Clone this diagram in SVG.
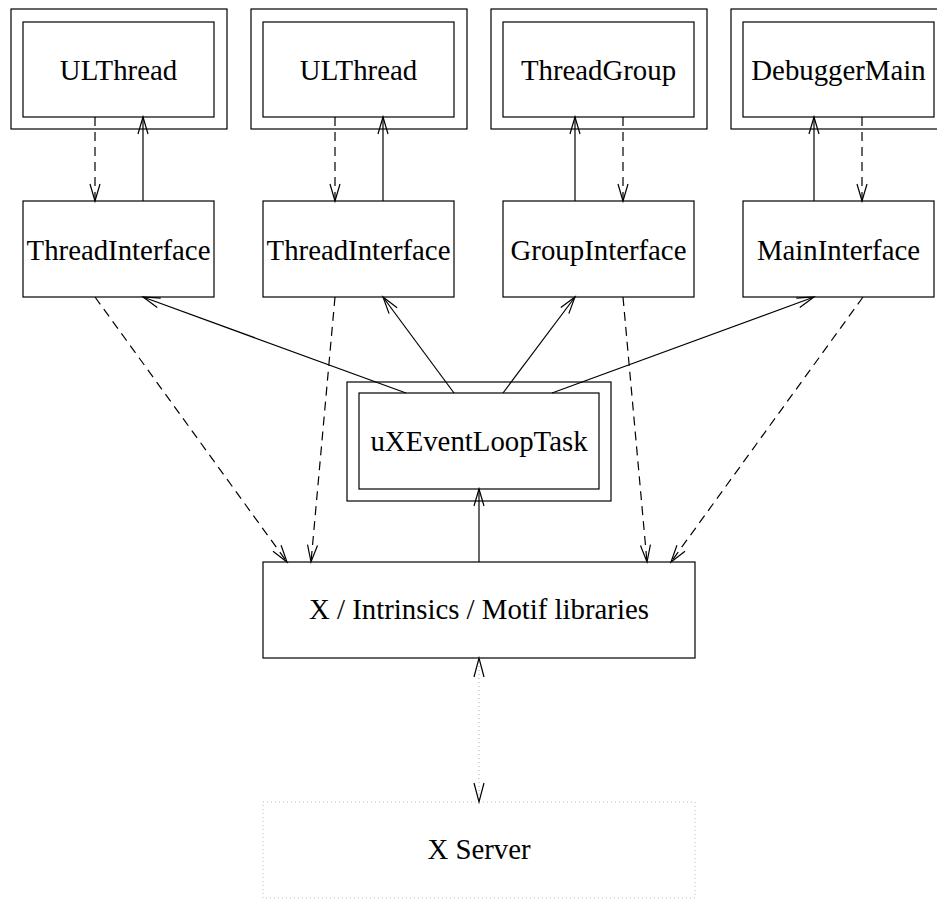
<svg xmlns="http://www.w3.org/2000/svg" width="937" height="899" viewBox="0 0 937 899">
  <style>
    .box { fill: #fff; stroke: #000; stroke-width: 1.2; }
    .ghost { fill: none; stroke: #bbb; stroke-width: 1; stroke-dasharray: 1 3; }
    .lbl { font-family: "Liberation Serif", "Times New Roman", serif; font-size: 28.8px; text-anchor: middle; fill: #000; }
    .call { fill: none; stroke: #000; stroke-width: 1.2; marker-end: url(#head); }
    .event { fill: none; stroke: #000; stroke-width: 1.2; stroke-dasharray: 9 6; marker-end: url(#head); }
    .wire { fill: none; stroke: #aaa; stroke-width: 1; stroke-dasharray: 1 3; marker-start: url(#head2); marker-end: url(#head2); }
  </style>
  <defs>
    <marker id="head" markerUnits="userSpaceOnUse" markerWidth="24" markerHeight="14" viewBox="-18 -7 24 14" refX="0" refY="0" orient="auto" overflow="visible">
      <path d="M-17,-5 L0,0 L-17,5" fill="none" stroke="#000" stroke-width="1.2" stroke-dasharray="none"/>
    </marker>
    <marker id="head2" markerUnits="userSpaceOnUse" markerWidth="24" markerHeight="14" viewBox="-18 -7 24 14" refX="0" refY="0" orient="auto-start-reverse" overflow="visible">
      <path d="M-19,-5 L0,0 L-19,5" fill="none" stroke="#000" stroke-width="1.2" stroke-dasharray="none"/>
    </marker>
  </defs>
  <rect width="937" height="899" fill="#fff"/>

  <!-- thread / group / main objects (double-bordered: active tasks) -->
  <g id="ulthread1">
    <rect class="box" x="11" y="9" width="216" height="120"/>
    <rect class="box" x="23" y="22" width="191" height="95"/>
    <text class="lbl" x="118.5" y="80">ULThread</text>
  </g>
  <g id="ulthread2">
    <rect class="box" x="251" y="9" width="216" height="120"/>
    <rect class="box" x="263" y="22" width="191" height="95"/>
    <text class="lbl" x="358.5" y="80">ULThread</text>
  </g>
  <g id="threadgroup">
    <rect class="box" x="491" y="9" width="216" height="120"/>
    <rect class="box" x="503" y="22" width="191" height="95"/>
    <text class="lbl" x="598.5" y="80">ThreadGroup</text>
  </g>
  <g id="debuggermain">
    <rect class="box" x="731" y="9" width="216" height="120"/>
    <rect class="box" x="743" y="22" width="191" height="95"/>
    <text class="lbl" x="838.5" y="80">DebuggerMain</text>
  </g>

  <!-- interface objects -->
  <g id="threadinterface1">
    <rect class="box" x="23" y="201" width="191" height="96"/>
    <text class="lbl" x="118.5" y="260">ThreadInterface</text>
  </g>
  <g id="threadinterface2">
    <rect class="box" x="263" y="201" width="191" height="96"/>
    <text class="lbl" x="358.5" y="260">ThreadInterface</text>
  </g>
  <g id="groupinterface">
    <rect class="box" x="503" y="201" width="191" height="96"/>
    <text class="lbl" x="598.5" y="260">GroupInterface</text>
  </g>
  <g id="maininterface">
    <rect class="box" x="743" y="201" width="191" height="96"/>
    <text class="lbl" x="838.5" y="260">MainInterface</text>
  </g>

  <!-- event loop task -->
  <g id="uxeventlooptask">
    <rect class="box" x="347" y="382" width="264" height="119"/>
    <rect class="box" x="359" y="393" width="240" height="96"/>
    <text class="lbl" x="479" y="451">uXEventLoopTask</text>
  </g>

  <!-- toolkit libraries -->
  <g id="xlibs">
    <rect class="box" x="263" y="562" width="432" height="96"/>
    <text class="lbl" x="479" y="619">X / Intrinsics / Motif libraries</text>
  </g>

  <!-- external server -->
  <g id="xserver">
    <rect class="ghost" x="263" y="802" width="432" height="96"/>
    <text class="lbl" x="479" y="859">X Server</text>
  </g>

  <g id="connectors">
    <!-- task to interface -->
    <line class="event" x1="95" y1="117" x2="95" y2="201"/>
    <line class="call" x1="143" y1="201" x2="143" y2="117"/>
    <line class="event" x1="335" y1="117" x2="335" y2="201"/>
    <line class="call" x1="383" y1="201" x2="383" y2="117"/>
    <line class="call" x1="575" y1="201" x2="575" y2="117"/>
    <line class="event" x1="623" y1="117" x2="623" y2="201"/>
    <line class="call" x1="814" y1="201" x2="814" y2="117"/>
    <line class="event" x1="862" y1="117" x2="862" y2="201"/>

    <!-- event loop dispatch to interfaces -->
    <line class="call" x1="406" y1="393" x2="143" y2="297"/>
    <line class="call" x1="454" y1="393" x2="383" y2="297"/>
    <line class="call" x1="503" y1="393" x2="575" y2="297"/>
    <line class="call" x1="552" y1="393" x2="814" y2="297"/>

    <!-- interfaces to libraries -->
    <line class="event" x1="95" y1="297" x2="287" y2="562"/>
    <line class="event" x1="335" y1="297" x2="311" y2="562"/>
    <line class="event" x1="623" y1="297" x2="647" y2="562"/>
    <line class="event" x1="863" y1="297" x2="671" y2="562"/>

    <!-- libraries to event loop -->
    <line class="call" x1="479" y1="562" x2="479" y2="489"/>

    <!-- libraries to server -->
    <line class="wire" x1="479" y1="658" x2="479" y2="802"/>
  </g>
</svg>
